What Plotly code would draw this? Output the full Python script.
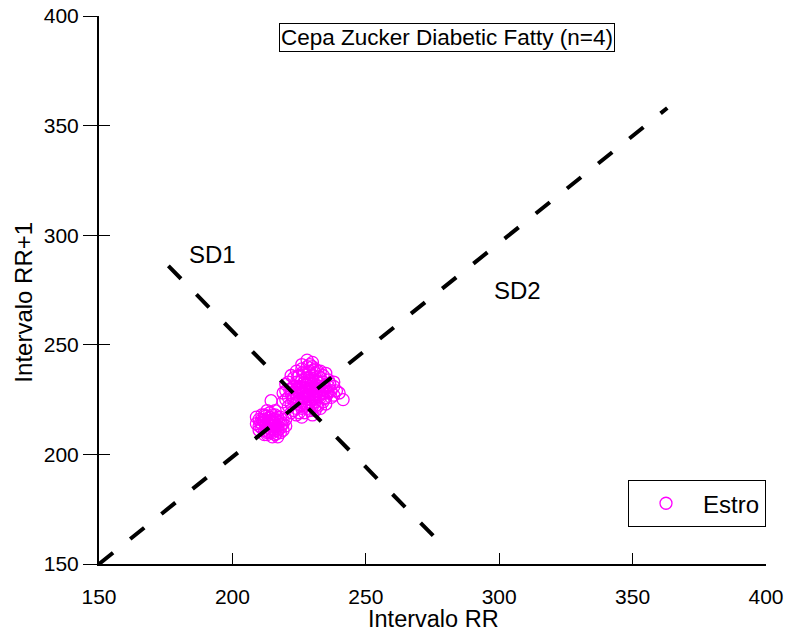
import plotly.graph_objects as go

# ---------------- data ----------------
rr_cluster1_x = [213, 214, 215, 216, 214, 215, 213, 216, 217, 212,
                 211, 210, 209, 212, 214, 216, 218, 217, 215, 213,
                 212, 211, 210, 218, 219, 218, 217, 214, 212, 215,
                 216, 214, 213, 216, 215, 218, 219, 220, 219, 211,
                 214.5, 209, 210, 212, 217, 220, 213, 216, 211, 215,
                 213.5, 214.5, 215.5, 212.5, 216.5, 213.5, 217.5, 211.5, 214.5, 216.5,
                 212.5, 215.5, 210.5, 218.5, 213.5, 216.5]
rr_cluster1_y = [214, 215, 213, 214, 212, 216, 212, 216, 213, 215,
                 214, 216, 217, 218, 217, 218, 215, 211, 210, 210,
                 211, 212, 213, 212, 214, 217, 217, 219, 216, 218,
                 211, 210, 209, 209, 208, 210, 216, 213, 211, 218,
                 224.5, 214, 211, 209, 208, 216, 220, 220, 216, 215,
                 213.5, 213.5, 214.5, 213.5, 215.5, 216.5, 214.5, 215.5, 211.5, 212.5,
                 217.5, 211.5, 214.5, 213.5, 210.5, 209.5]

rr_cluster2_x = [228, 229, 227, 230, 226, 229, 231, 228, 225, 227,
                 230, 232, 226, 224, 233, 229, 227, 231, 225, 232,
                 228, 226, 230, 234, 233, 224, 223, 222, 225, 227,
                 229, 231, 234, 235, 236, 235, 233, 231, 229, 227,
                 225, 224, 223, 222, 221, 222, 224, 226, 228, 230,
                 232, 234, 236, 237, 237, 236, 234, 232, 230, 228,
                 226, 224, 223, 221, 220, 220, 221, 223, 225, 227,
                 229, 231, 233, 235, 238, 239, 238, 241.5, 240, 238,
                 228, 230, 226, 229, 231, 233, 235, 222, 220, 219,
                 219, 222, 224, 226, 230, 228, 230, 226, 232, 229,
                 228.5, 229.5, 227.5, 230.5, 226.5, 231.5, 232.5, 225.5, 224.5, 233.5,
                 228.5, 230.5, 226.5, 227.5, 229.5, 231.5, 232.5, 234.5, 223.5, 222.5,
                 228.5, 226.5, 230.5, 224.5, 233.5, 235.5, 227.5, 229.5, 231.5, 225.5,
                 236.5, 221.5, 228.5, 230.5, 226.5, 232.5, 224.5, 234.5, 227.5, 229.5]
rr_cluster2_y = [229, 230, 228, 228, 230, 227, 230, 232, 228, 226,
                 232, 229, 226, 227, 231, 234, 233, 226, 231, 233,
                 235, 234, 236, 228, 226, 224, 226, 228, 224, 223,
                 224, 224, 233, 230, 228, 226, 235, 237, 238, 237,
                 236, 233, 231, 230, 226, 223, 221, 221, 221, 222,
                 222, 224, 231, 229, 226, 234, 236, 238, 240, 240,
                 239, 238, 235, 233, 229, 225, 222, 220, 219, 219,
                 220, 220, 221, 223, 227, 229, 231, 225, 228, 233,
                 243, 242, 241, 241, 239, 238, 237, 236, 232, 228,
                 224, 219, 218, 217, 218, 227, 230, 228, 231, 225,
                 228.5, 229.5, 230.5, 227.5, 228.5, 231.5, 228.5, 229.5, 230.5, 229.5,
                 225.5, 225.5, 225.5, 231.5, 233.5, 233.5, 235.5, 231.5, 228.5, 225.5,
                 237.5, 237.5, 238.5, 235.5, 227.5, 228.5, 222.5, 222.5, 222.5, 222.5,
                 232.5, 229.5, 226.5, 226.5, 232.5, 226.5, 229.5, 225.5, 230.5, 232.5]

sd2_line_x = [150, 363]
sd2_line_y = [150, 358]
sd1_line_x = [176, 276]
sd1_line_y = [286, 162]

series_name = "Estro"
chart_title = "Cepa Zucker Diabetic Fatty (n=4)"
x_title = "Intervalo RR"
y_title = "Intervalo RR+1"
tick_vals = [150, 200, 250, 300, 350, 400]
sd1_label_pos = (192.7, 291)
sd2_label_pos = (306.7, 275)
title_pos = (280.4, 390.4)

# ---------------- figure ----------------
rr_x = rr_cluster1_x + rr_cluster2_x
rr_y = rr_cluster1_y + rr_cluster2_y

fig = go.Figure()
fig.add_trace(go.Scatter(
    x=rr_x, y=rr_y, mode="markers", name=series_name,
    marker=dict(symbol="circle-open", size=12, color="#FF00FF",
                line=dict(width=1.3, color="#FF00FF")),
))
line_style = dict(color="black", width=4, dash="18px,22px")
fig.add_trace(go.Scatter(x=sd2_line_x, y=sd2_line_y, mode="lines",
                         line=line_style, showlegend=False, yaxis="y2"))
fig.add_trace(go.Scatter(x=sd1_line_x, y=sd1_line_y, mode="lines",
                         line=line_style, showlegend=False, yaxis="y2"))

font_family = "Arial, Liberation Sans, sans-serif"

fig.update_layout(
    width=785, height=633,
    margin=dict(l=99, r=19, t=16, b=69),
    paper_bgcolor="white", plot_bgcolor="white",
    font=dict(family=font_family, color="black", size=21),
    xaxis=dict(
        range=[150, 400], tickvals=tick_vals, showgrid=False, zeroline=False,
        showline=True, linecolor="black", linewidth=2,
        ticks="inside", ticklen=11, tickwidth=1, tickcolor="black",
        ticklabelstandoff=13, automargin=False, ticklabeloverflow="allow",
        tickfont=dict(size=21),
    ),
    yaxis=dict(
        range=[150, 400], tickvals=tick_vals, showgrid=False, zeroline=False,
        showline=True, linecolor="black", linewidth=2,
        ticks="outside", ticklen=14, tickwidth=1, tickcolor="black",
        tickfont=dict(size=21), automargin=False, ticklabeloverflow="allow",
    ),
    yaxis2=dict(
        range=[150, 400], tickvals=tick_vals, overlaying="y", side="left",
        showgrid=False, zeroline=False, showline=False, showticklabels=False,
        ticks="inside", ticklen=11, tickwidth=1, tickcolor="black",
        automargin=False,
    ),
    showlegend=True,
    legend=dict(
        x=1, xanchor="right", y=0.153, yanchor="top",
        bordercolor="black", borderwidth=1, bgcolor="white",
        font=dict(size=24), itemwidth=64,
    ),
    annotations=[
        dict(x=title_pos[0], y=title_pos[1], xref="x", yref="y",
             text=chart_title, showarrow=False, font=dict(size=22.5),
             bordercolor="black", borderwidth=1, borderpad=1),
        dict(x=sd1_label_pos[0], y=sd1_label_pos[1], xref="x", yref="y",
             text="SD1", showarrow=False, font=dict(size=24)),
        dict(x=sd2_label_pos[0], y=sd2_label_pos[1], xref="x", yref="y",
             text="SD2", showarrow=False, font=dict(size=24)),
        dict(x=0.5008, y=-0.100, xref="paper", yref="paper",
             text=x_title, showarrow=False, font=dict(size=23.5),
             xanchor="center", yanchor="middle"),
        dict(x=-0.1124, y=0.477, xref="paper", yref="paper",
             text=y_title, showarrow=False, font=dict(size=24), textangle=-90,
             xanchor="center", yanchor="middle"),
    ],
)

# remove the default 8px page margin so the figure fills the window exactly
fig.write_html("out.html", config={"displayModeBar": False},
               post_script="document.body.style.margin='0';")
